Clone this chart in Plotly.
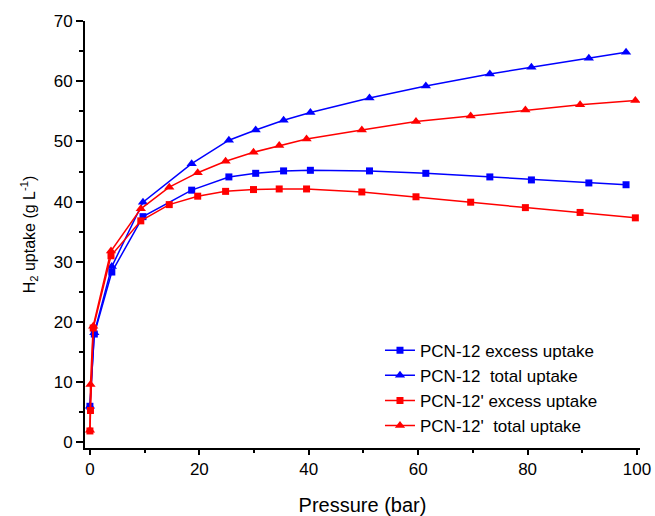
import plotly.graph_objects as go

# PCN-12 data
p_pcn12 = [0, 0.8, 4.0, 9.7, 18.6, 25.4, 30.3, 35.4, 40.3, 51.1, 61.4, 73.1, 80.7, 91.2, 98.0]
excess_pcn12 = [6.0, 18.0, 28.3, 37.5, 41.9, 44.1, 44.7, 45.1, 45.2, 45.1, 44.7, 44.1, 43.6, 43.1, 42.8]
total_pcn12 = [6.0, 18.2, 29.2, 39.9, 46.3, 50.2, 51.9, 53.5, 54.8, 57.2, 59.2, 61.2, 62.3, 63.8, 64.8]

# PCN-12' data
p_pcn12p = [0, 0.1, 0.6, 3.85, 9.3, 14.5, 19.7, 24.8, 29.9, 34.6, 39.6, 49.7, 59.6, 69.6, 79.6, 89.6, 99.7]
excess_pcn12p = [1.9, 5.3, 19.0, 31.0, 36.8, 39.5, 40.9, 41.7, 42.0, 42.1, 42.1, 41.6, 40.8, 39.9, 39.0, 38.2, 37.3]
total_pcn12p = [2.0, 9.6, 19.3, 31.8, 38.8, 42.4, 44.8, 46.7, 48.2, 49.3, 50.4, 51.9, 53.3, 54.2, 55.2, 56.1, 56.8]

# Axis ticks
x_ticks = [0, 20, 40, 60, 80, 100]
x_minor = [10, 30, 50, 70, 90]
y_ticks = [0, 10, 20, 30, 40, 50, 60, 70]
y_minor = [5, 15, 25, 35, 45, 55, 65]

names = ["PCN-12 excess uptake", "PCN-12\u00a0 total uptake",
         "PCN-12' excess uptake", "PCN-12'\u00a0 total uptake"]

BLUE = "#0000FF"
RED = "#FF0000"
FONT = "Liberation Sans, Arial, sans-serif"

fig = go.Figure()
fig.add_trace(go.Scatter(x=p_pcn12, y=excess_pcn12, name=names[0], mode="lines+markers",
                         line=dict(color=BLUE, width=1.5),
                         marker=dict(symbol="square", size=7, color=BLUE)))
fig.add_trace(go.Scatter(x=p_pcn12, y=total_pcn12, name=names[1], mode="lines+markers",
                         line=dict(color=BLUE, width=1.5),
                         marker=dict(symbol="triangle-up", size=9, color=BLUE)))
fig.add_trace(go.Scatter(x=p_pcn12p, y=excess_pcn12p, name=names[2], mode="lines+markers",
                         line=dict(color=RED, width=1.5),
                         marker=dict(symbol="square", size=7, color=RED)))
fig.add_trace(go.Scatter(x=p_pcn12p, y=total_pcn12p, name=names[3], mode="lines+markers",
                         line=dict(color=RED, width=1.5),
                         marker=dict(symbol="triangle-up", size=9, color=RED)))

tick_font = dict(family=FONT, size=17, color="black")

fig.update_layout(
    width=655, height=516,
    margin=dict(l=85, r=15, t=21, b=68, autoexpand=False),
    paper_bgcolor="white", plot_bgcolor="white",
    font=dict(family=FONT, color="black"),
    showlegend=True,
    legend=dict(x=0.5315, y=0.27, xanchor="left", yanchor="top",
                font=dict(family=FONT, size=17, color="black"),
                bgcolor="rgba(0,0,0,0)", tracegroupgap=0),
    xaxis=dict(range=[-0.9, 100.55], tickvals=x_ticks, automargin=False,
               showgrid=False, zeroline=False, showline=True, linecolor="black", linewidth=2,
               ticks="outside", ticklen=5, tickwidth=2, tickcolor="black",
               minor=dict(tickvals=x_minor, ticks="outside", ticklen=3,
                          tickwidth=1.5, tickcolor="black"),
               tickfont=tick_font,
               title=dict(text="Pressure (bar)", font=dict(family=FONT, size=20, color="black"),
                          standoff=20)),
    yaxis=dict(range=[-0.93, 70], tickvals=y_ticks, automargin=False,
               showgrid=False, zeroline=False, showline=True, linecolor="black", linewidth=2,
               ticks="outside", ticklen=7, tickwidth=2, tickcolor="black",
               minor=dict(tickvals=y_minor, ticks="outside", ticklen=4,
                          tickwidth=1.5, tickcolor="black"),
               tickfont=tick_font,
               title=dict(text="H<sub>2</sub> uptake (g L<sup>-1</sup>)",
                          font=dict(family=FONT, size=16, color="black"), standoff=14)),
)

fig.write_html("out.html", config={"displayModeBar": False},
               post_script="document.body.style.margin='0';")
